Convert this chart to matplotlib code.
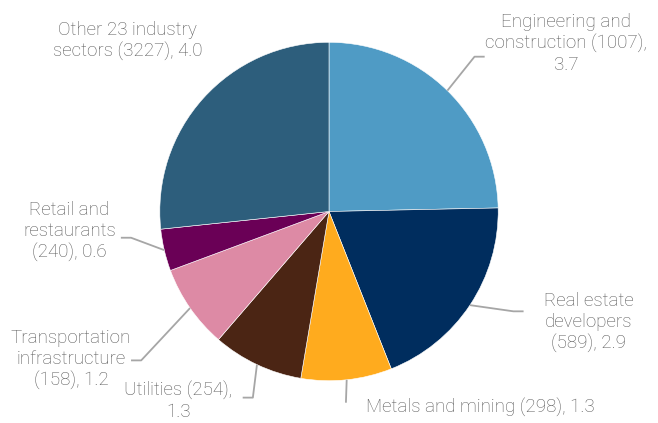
import matplotlib.pyplot as plt
import numpy as np

# sector exposure, clockwise from 12 o'clock
sectors = ["Engineering and\nconstruction", "Real estate\ndevelopers", "Metals and mining",
           "Utilities", "Transportation\ninfrastructure", "Retail and\nrestaurants",
           "Other 23 industry\nsectors"]
counts = [1007, 589, 298, 254, 158, 240, 3227]
values = [3.7, 2.9, 1.3, 1.3, 1.2, 0.6, 4.0]
colors = ["#4F9BC5", "#002D5E", "#FFAB1E", "#4B2514", "#DD8AA5", "#6A0056", "#2D5E7C"]

# label layout: format, text anchor (data units), leader elbow, leader end, alignment
label_fmt = ["{n} ({c}),\n{v}", "{n}\n({c}), {v}", "{n} ({c}), {v}", "{n} ({c}),\n{v}",
             "{n}\n({c}), {v}", "{n}\n({c}), {v}", "{n} ({c}), {v}"]
label_xy = [(1.4, 0.995), (1.535, -0.655), (0.22, -1.16), (-0.89, -1.12),
            (-1.525, -0.875), (-1.535, -0.12), (-1.19, 1.005)]
elbow = [(0.86, 0.915), (1.09, -0.59), (0.10, -1.13), (-0.45, -1.10),
         (-1.11, -0.88), (-1.17, -0.155), None]
leader_end = [(0.92, 0.915), (1.15, -0.59), None, (-0.51, -1.10),
              (-1.17, -0.88), (-1.23, -0.155), None]
align = ["center", "center", "left", "center", "center", "center", "center"]

W, H = 658, 423
cx, cy, r = 326, 211, 170

fig = plt.figure(figsize=(W / 100, H / 100), dpi=100)
ax = fig.add_axes([0, 0, 1, 1])
ax.set_xlim(-cx / r, (W - cx) / r)
ax.set_ylim(-(H - cy) / r, cy / r)
ax.set_aspect("equal")
ax.axis("off")

wedges, _ = ax.pie(values, colors=colors, startangle=90, counterclock=False, radius=1,
                   wedgeprops=dict(edgecolor="white", linewidth=0.4))

grey_line = "#A6A6A6"
for i, w in enumerate(wedges):
    ang = np.deg2rad((w.theta1 + w.theta2) / 2)
    p0 = (np.cos(ang), np.sin(ang))
    text = label_fmt[i].format(n=sectors[i], c=counts[i], v=values[i])
    ax.text(*label_xy[i], text, ha=align[i], va="center", fontsize=13.5,
            family="Roboto", fontweight="light", color="#595959", linespacing=1.2)
    if elbow[i] is not None:
        xs = [p0[0], elbow[i][0]]
        ys = [p0[1], elbow[i][1]]
        if leader_end[i] is not None:
            xs.append(leader_end[i][0])
            ys.append(leader_end[i][1])
        ax.plot(xs, ys, color=grey_line, lw=1.3, solid_capstyle="butt")

fig.savefig("out.png", dpi=100)
